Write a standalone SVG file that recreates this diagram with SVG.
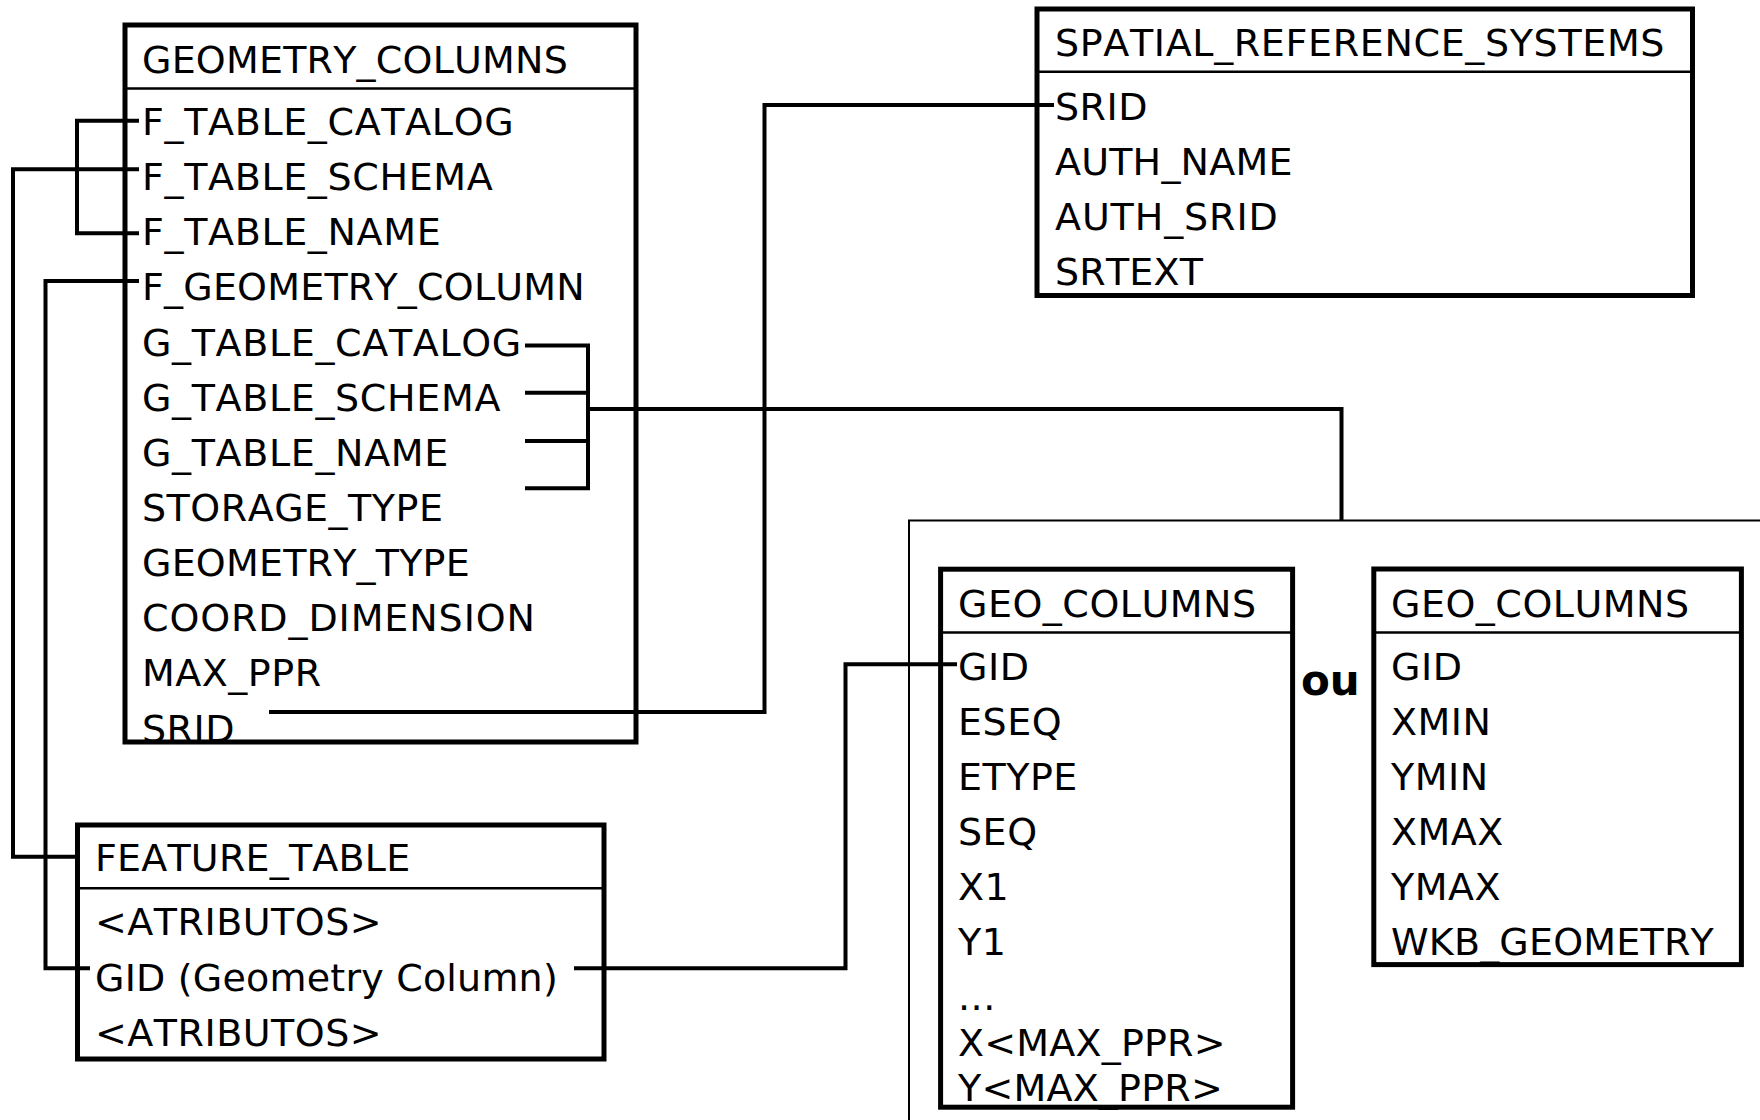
<svg xmlns="http://www.w3.org/2000/svg" width="1760" height="1120" viewBox="0 0 1760 1120">
<style>
  text { font-family: "DejaVu Sans", "Verdana", sans-serif; font-size: 38px; fill: #000; font-kerning: none; letter-spacing: 0.5px; }
  .w { letter-spacing: 0.65px; }
  .ww { letter-spacing: 0.9px; }
  .n { letter-spacing: 0.2px; }
  .ou { font-weight: bold; font-size: 42px; letter-spacing: 0; }
  .box { fill: none; stroke: #000; stroke-width: 5; }
  .sep { fill: none; stroke: #000; stroke-width: 2.5; }
  .conn { fill: none; stroke: #000; stroke-width: 4; stroke-linejoin: miter; stroke-linecap: butt; }
  .frame { fill: none; stroke: #000; stroke-width: 2; }
</style>
<rect x="0" y="0" width="1760" height="1120" fill="#fff"/>

<g id="alternatives-frame">
  <path class="frame" d="M909,1125 V520.5 H1765"/>
</g>

<g id="connectors">
  <path class="conn" d="M139,120.7 H77 V233.3 H139"/>
  <path class="conn" d="M139,169.3 H13 V856.7 H80"/>
  <path class="conn" d="M139,281 H45.5 V968.3 H90"/>
  <path class="conn" d="M525,345.5 H588 V488.3 H525"/>
  <path class="conn" d="M525,392.7 H588"/>
  <path class="conn" d="M525,441 H588"/>
  <path class="conn" d="M588,409 H1341.5 V520.5"/>
  <path class="conn" d="M269,712 H764.5 V105 H1054"/>
  <path class="conn" d="M574,968.3 H845.5 V664.3 H957"/>
</g>

<g id="geometry_columns">
  <text class="n" x="142" y="73">GEOMETRY_COLUMNS</text>
  <text class="w" x="142" y="135">F_TABLE_CATALOG</text>
  <text class="w" x="142" y="190">F_TABLE_SCHEMA</text>
  <text class="w" x="142" y="245">F_TABLE_NAME</text>
  <text class="n" x="142" y="300">F_GEOMETRY_COLUMN</text>
  <text class="w" x="142" y="356">G_TABLE_CATALOG</text>
  <text class="w" x="142" y="411">G_TABLE_SCHEMA</text>
  <text class="w" x="142" y="466">G_TABLE_NAME</text>
  <text x="142" y="521">STORAGE_TYPE</text>
  <text class="n" x="142" y="576">GEOMETRY_TYPE</text>
  <text class="ww" x="142" y="631">COORD_DIMENSION</text>
  <text x="142" y="686">MAX_PPR</text>
  <text x="142" y="742">SRID</text>
  <line class="sep" x1="125" y1="88.5" x2="636" y2="88.5"/>
  <rect class="box" x="125" y="25" width="511" height="717"/>
</g>

<g id="spatial_reference_systems">
  <text class="w" x="1055" y="56">SPATIAL_REFERENCE_SYSTEMS</text>
  <text x="1055" y="119.5">SRID</text>
  <text class="n" x="1055" y="174.5">AUTH_NAME</text>
  <text class="ww" x="1055" y="229.5">AUTH_SRID</text>
  <text class="n" x="1055" y="284.5">SRTEXT</text>
  <line class="sep" x1="1037" y1="71.7" x2="1692.5" y2="71.7"/>
  <rect class="box" x="1037" y="9" width="655.5" height="286.5"/>
</g>

<g id="feature_table">
  <text class="n" x="95" y="871">FEATURE_TABLE</text>
  <text x="95" y="935">&lt;ATRIBUTOS&gt;</text>
  <text class="n" x="95" y="990.5">GID (Geometry Column)</text>
  <text x="95" y="1046">&lt;ATRIBUTOS&gt;</text>
  <line class="sep" x1="77.5" y1="888.3" x2="604" y2="888.3"/>
  <rect class="box" x="77.5" y="825" width="526.5" height="234"/>
</g>

<g id="geo_columns_1">
  <text x="958" y="616.6">GEO_COLUMNS</text>
  <text x="958" y="680">GID</text>
  <text x="958" y="735">ESEQ</text>
  <text x="958" y="790">ETYPE</text>
  <text x="958" y="845">SEQ</text>
  <text x="958" y="900">X1</text>
  <text x="958" y="955">Y1</text>
  <text x="958" y="1010">...</text>
  <text class="n" x="958" y="1056">X&lt;MAX_PPR&gt;</text>
  <text class="n" x="958" y="1101">Y&lt;MAX_PPR&gt;</text>
  <line class="sep" x1="940.6" y1="632.5" x2="1292.5" y2="632.5"/>
  <rect class="box" x="940.6" y="569.2" width="352" height="538"/>
</g>

<g id="or_label">
  <text class="ou" x="1301" y="694.5">ou</text>
</g>

<g id="geo_columns_2">
  <text x="1391" y="616.6">GEO_COLUMNS</text>
  <text x="1391" y="680">GID</text>
  <text x="1391" y="735">XMIN</text>
  <text x="1391" y="790">YMIN</text>
  <text x="1391" y="845">XMAX</text>
  <text x="1391" y="900">YMAX</text>
  <text class="n" x="1391" y="955">WKB_GEOMETRY</text>
  <line class="sep" x1="1373.8" y1="632.5" x2="1741.4" y2="632.5"/>
  <rect class="box" x="1373.8" y="569" width="367.6" height="395.6"/>
</g>
</svg>
